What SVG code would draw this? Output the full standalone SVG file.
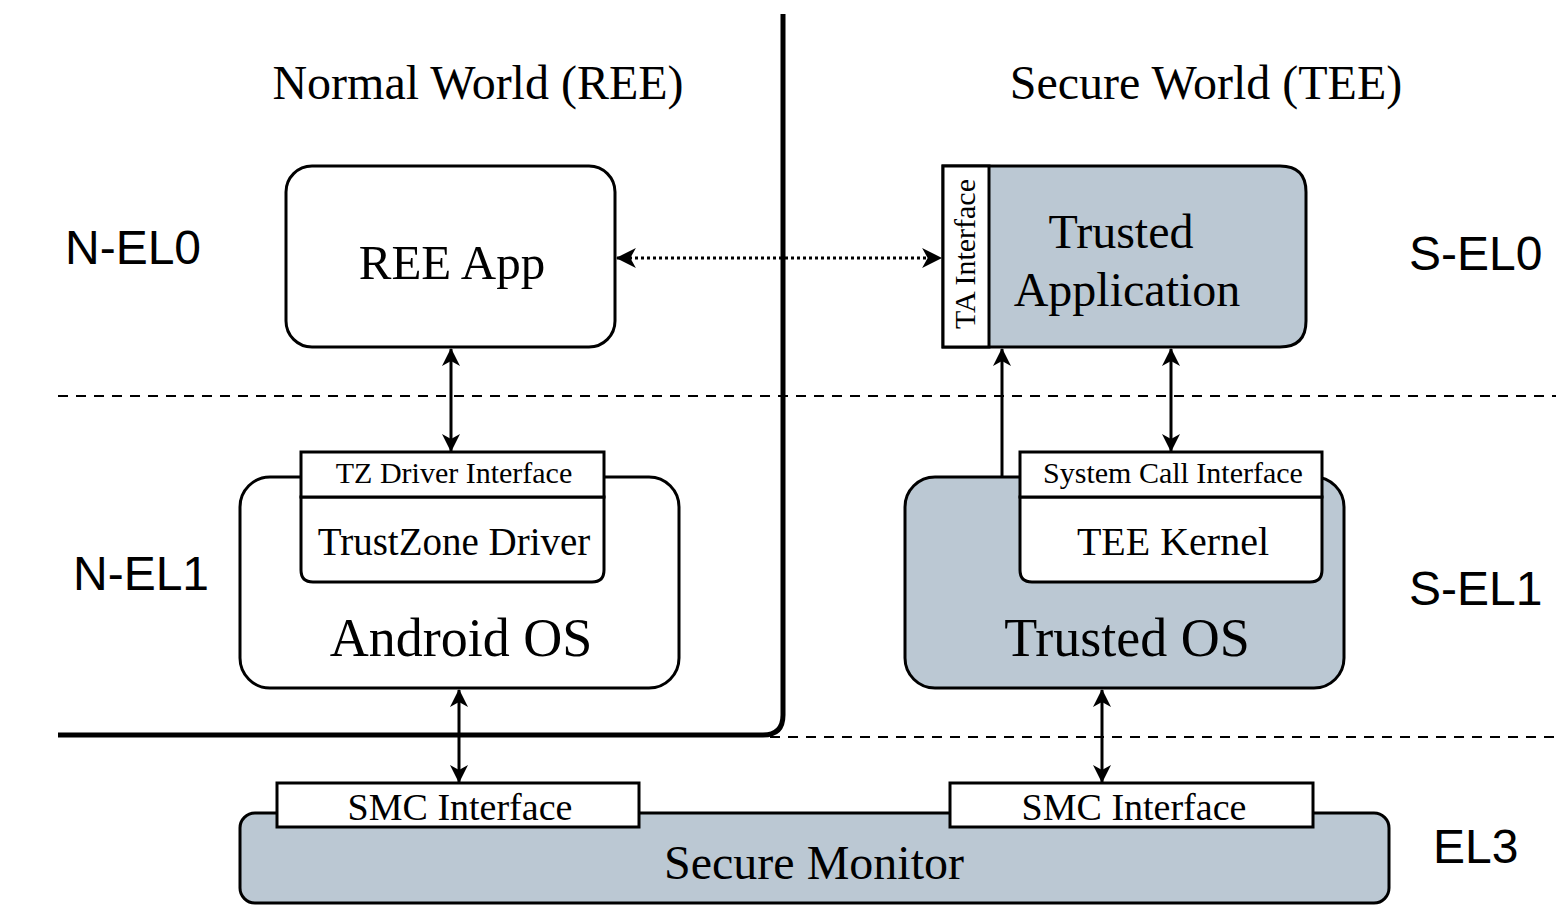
<svg xmlns="http://www.w3.org/2000/svg" width="1566" height="921" viewBox="0 0 1566 921">
<style>
.serif{font-family:"Liberation Serif","Times New Roman",serif;fill:#000}
.sans{font-family:"Liberation Sans",Arial,sans-serif;fill:#000;font-size:48px}
.box{stroke:#000;stroke-width:3}
.w{fill:#fff}
.g{fill:#bbc8d3}
.ln{stroke:#000;stroke-width:3;fill:none}
.dash{stroke:#000;stroke-width:2;stroke-dasharray:10,8;fill:none}
</style>
<defs>
<marker id="ah" viewBox="0 0 18 18" refX="17" refY="9" markerWidth="18" markerHeight="18" markerUnits="userSpaceOnUse" orient="auto-start-reverse">
<path d="M0,0 L18,9 L0,18 L5,9 z" fill="#000"/>
</marker>
<marker id="ahl" viewBox="0 0 18 18" refX="17" refY="9" markerWidth="20" markerHeight="20" markerUnits="userSpaceOnUse" orient="auto-start-reverse">
<path d="M0,0 L18,9 L0,18 L5,9 z" fill="#000"/>
</marker>
</defs>
<rect width="1566" height="921" fill="#fff"/>
<g id="boundaries">
<path d="M783,14 L783,715 Q783,735 763,735 L58,735" stroke="#000" stroke-width="5" fill="none"/>
<line x1="58" y1="396" x2="1556" y2="396" class="dash"/>
<line x1="770" y1="737" x2="1556" y2="737" class="dash"/>
</g>
<g id="headings">
<text x="478" y="99" class="serif" font-size="48" text-anchor="middle">Normal World (REE)</text>
<text x="1206" y="99" class="serif" font-size="48" text-anchor="middle">Secure World (TEE)</text>
<text x="65" y="264" class="sans">N-EL0</text>
<text x="73" y="590" class="sans">N-EL1</text>
<text x="1409" y="270" class="sans">S-EL0</text>
<text x="1409" y="605" class="sans">S-EL1</text>
<text x="1433" y="863" class="sans">EL3</text>
</g>
<g id="ree-app">
<rect x="286" y="166" width="329" height="181" rx="26" class="box w"/>
<text x="452" y="279" class="serif" font-size="49" text-anchor="middle">REE App</text>
</g>
<g id="trusted-app">
<path d="M943,166 L1280,166 Q1306,166 1306,192 L1306,321 Q1306,347 1280,347 L943,347 Z" class="box g"/>
<rect x="943" y="166" width="46" height="181" class="box w"/>
<text transform="translate(975,254) rotate(-90)" class="serif" font-size="30" text-anchor="middle">TA Interface</text>
<text x="1121" y="248" class="serif" font-size="48" text-anchor="middle">Trusted</text>
<text x="1127" y="306" class="serif" font-size="48" text-anchor="middle">Application</text>
</g>
<g id="android-os">
<rect x="240" y="477" width="439" height="211" rx="30" class="box w"/>
<text x="461" y="656" class="serif" font-size="54" text-anchor="middle">Android OS</text>
</g>
<g id="trustzone-driver">
<path d="M301,497 L604,497 L604,570 Q604,582 592,582 L313,582 Q301,582 301,570 Z" class="box w"/>
<text x="454" y="555" class="serif" font-size="39" text-anchor="middle">TrustZone Driver</text>
</g>
<g id="tz-driver-interface">
<rect x="301" y="452" width="303" height="45" class="box w"/>
<text x="454" y="483" class="serif" font-size="30" text-anchor="middle">TZ Driver Interface</text>
</g>
<g id="trusted-os">
<rect x="905" y="477" width="439" height="211" rx="30" class="box g"/>
<text x="1127" y="656" class="serif" font-size="54" text-anchor="middle">Trusted OS</text>
</g>
<g id="tee-kernel">
<path d="M1020,497 L1322,497 L1322,570 Q1322,582 1310,582 L1032,582 Q1020,582 1020,570 Z" class="box w"/>
<text x="1173" y="555" class="serif" font-size="40" text-anchor="middle">TEE Kernel</text>
</g>
<g id="system-call-interface">
<rect x="1020" y="452" width="302" height="45" class="box w"/>
<text x="1173" y="483" class="serif" font-size="30" text-anchor="middle">System Call Interface</text>
</g>
<g id="secure-monitor">
<rect x="240" y="813" width="1149" height="90" rx="15" class="box g"/>
<text x="814" y="879" class="serif" font-size="48" text-anchor="middle">Secure Monitor</text>
</g>
<g id="smc-left">
<rect x="277" y="783" width="362" height="44" class="box w"/>
<text x="460" y="820" class="serif" font-size="38" text-anchor="middle">SMC Interface</text>
</g>
<g id="smc-right">
<rect x="950" y="783" width="363" height="44" class="box w"/>
<text x="1134" y="820" class="serif" font-size="38" text-anchor="middle">SMC Interface</text>
</g>
<g id="connectors">
<line x1="617" y1="258" x2="941" y2="258" stroke="#000" stroke-width="3" stroke-dasharray="3,3" marker-start="url(#ahl)" marker-end="url(#ahl)"/>
<line x1="451" y1="349" x2="451" y2="451" class="ln" marker-start="url(#ah)" marker-end="url(#ah)"/>
<line x1="1002" y1="476" x2="1002" y2="349" class="ln" marker-end="url(#ah)"/>
<line x1="1171" y1="349" x2="1171" y2="451" class="ln" marker-start="url(#ah)" marker-end="url(#ah)"/>
<line x1="459" y1="690" x2="459" y2="782" class="ln" marker-start="url(#ah)" marker-end="url(#ah)"/>
<line x1="1102" y1="690" x2="1102" y2="782" class="ln" marker-start="url(#ah)" marker-end="url(#ah)"/>
</g>
</svg>
